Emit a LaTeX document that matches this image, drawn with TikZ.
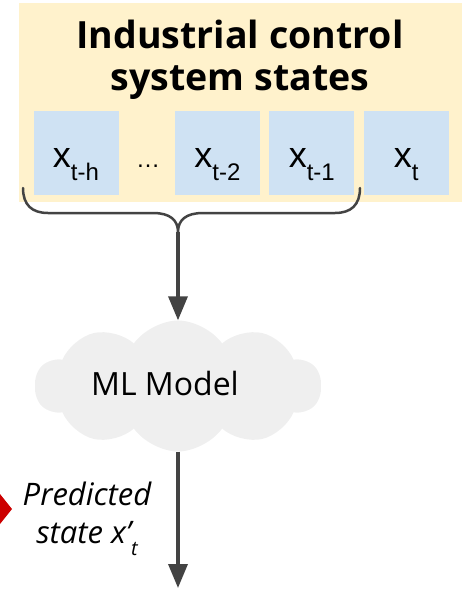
\documentclass[tikz,border=0pt]{standalone}
\usepackage{fontspec}
\setmainfont{Open Sans}
\newfontfamily\arialfont{Liberation Sans}
\usetikzlibrary{positioning}
\usetikzlibrary{shapes.symbols}
\usetikzlibrary{arrows.meta}
\definecolor{panel}{HTML}{FFF2CC}
\definecolor{statefill}{HTML}{CFE2F3}
\definecolor{cloudgray}{HTML}{EFEFEF}
\definecolor{linegray}{HTML}{434343}
\definecolor{alertred}{HTML}{CC0000}
\newcommand{\xstate}[1]{{\fontsize{36}{36}\selectfont x}\raisebox{-13pt}{\fontsize{24}{24}\selectfont #1}}

\begin{document}
\begin{tikzpicture}[x=1pt,y=-1pt,node distance=9pt,
			xbox/.style={fill=statefill,inner sep=0pt,minimum width=85pt,text height=56pt,text depth=28pt,font=\arialfont},
			flow/.style={-{Triangle[length=24pt,width=19pt]},line width=3.5pt,draw=linegray},
			brace/.style={line width=2.5pt,draw=linegray,line cap=round}]
			\useasboundingbox (0,0) rectangle (462,589);
			\fill[panel] (19,3) rectangle (462,202);
			\node[font=\bfseries\fontsize{37.5}{42}\selectfont,align=center] (title) at (240,60) {Industrial control \\ system states};
			\node[xbox] (x1) at (76,153) {\xstate{t-h}};
			\node[xbox, right=56pt of x1] (x2) {\xstate{t-2}};
			\node[xbox, right=of x2] (x3) {\xstate{t-1}};
			\node[xbox, right=of x3] (x4) {\xstate{t}};
			\node[font=\arialfont\fontsize{24}{24}\selectfont,anchor=base] (dots) at (148,167) {\ldots};
			% brace over the history window
			\coordinate (bl) at (23,188);
			\coordinate (br) at (360,188);
			\coordinate (tip) at (178,232);
			\draw[brace] (bl) .. controls (23,205) and (32,213) .. (48,213) -- (153,213)
				.. controls (170,213) and (178,220) .. (tip)
				.. controls (178,220) and (186,213) .. (203,213) -- (335,213)
				.. controls (351,213) and (360,205) .. (br);
			\node[cloud,cloud puffs=10,cloud puff arc=110,fill=cloudgray,minimum width=286pt,minimum height=131pt,inner sep=0pt] (model) at (178,386) {};
			\node[font=\fontsize{32}{32}\selectfont] (mltext) at (165,383) {ML Model};
			\coordinate (out) at (178,588);
			\draw[flow] (tip) -- (model);
			\draw[flow] (model) -- (out);
			\node[font=\itshape\fontsize{31}{38}\selectfont,align=center] (pred) at (87,519) {Predicted \\ state x’\raisebox{-12pt}{\fontsize{20}{20}\selectfont t}};
			\fill[alertred] (0,494) -- (12,509) -- (0,524) -- cycle;
		\end{tikzpicture}
\end{document}
